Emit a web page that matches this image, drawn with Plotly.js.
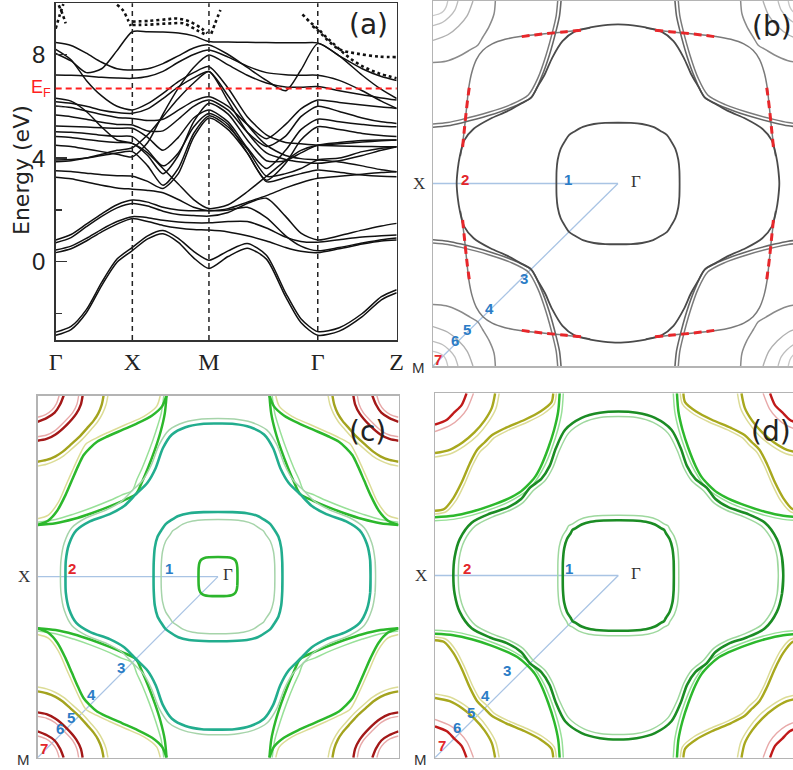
<!DOCTYPE html>
<html><head><meta charset="utf-8">
<script src="https://cdn.plot.ly/plotly-3.0.1.min.js"></script>
<style>html,body{margin:0;padding:0;background:#fff}#chart{width:793px;height:770px}</style>
</head><body><div id="chart"></div>
<script>
// ================= Panel (a): band structure =================
const kPath = [0,0.2,0.4,0.6,0.8,1,1.2,1.4,1.6,1.8,2,2.25,2.5,2.75,3.0,3.2,3.42,3.7,4.0,4.25,4.45];
const kTickVals = [0,1,2,3.42,4.45];
const kTickText = ['Γ','X','M','Γ','Z'];
const energyTicks = [0,4,8];
const energyMinor = [-2,2,6];
const energyFermi = 6.69;

const band01 = [-2.72,-2.5,-1.85,-0.8,0.1,0.55, 1.0,1.2,0.9,0.4,0.06, 0.42,0.7,0.25,-1.2,-2.2,-2.7, -2.55,-2.0,-1.35,-1.08];
const band02 = [-2.84,-2.62,-1.97,-0.92,-0.02,0.43, 0.88,1.08,0.75,0.15,-0.26, 0.2,0.52,0.1,-1.35,-2.35,-2.84, -2.68,-2.12,-1.47,-1.2];
const band03 = [0.84,1.05,1.45,1.85,2.2,2.38, 2.3,2.1,2.0,1.97,1.97, 2.05,2.3,2.55,2.85,3.05,3.22, 3.3,3.38,3.44,3.47];
const band04 = [0.73,0.93,1.35,1.75,2.08,2.25, 2.15,1.95,1.82,1.78,1.76, 1.9,2.25,2.45,1.75,1.1,0.84, 1.0,1.22,1.38,1.48];
const band05 = [0.45,0.6,0.9,1.25,1.55,1.74, 1.7,1.6,1.53,1.5,1.5, 1.55,1.55,1.3,0.95,0.78,0.75, 0.85,0.95,1.0,1.03];
const band06 = [0.35,0.5,0.8,1.15,1.45,1.67, 1.55,1.4,1.3,1.24,1.22, 1.15,1.0,0.8,0.55,0.4,0.35, 0.5,0.68,0.8,0.84];
const band07 = [3.26,3.2,3.08,2.95,2.85,2.8, 2.75,2.66,2.4,2.1,1.97, 2.0,2.1,1.7,1.0,0.6,0.42, 0.55,0.72,0.85,0.92];
const band08 = [3.51,3.48,3.42,3.36,3.32,3.3, 3.1,2.83,3.4,4.8,5.55, 5.1,4.2,3.09,3.25,3.4,3.54, 3.45,3.35,3.3,3.28];
const band09 = [3.86,3.9,4.0,4.15,4.3,4.4, 4.9,5.6,6.3,6.9,7.34, 6.2,5.0,4.2,3.95,3.85,3.8, 3.9,4.1,4.3,4.44];
const band10 = [3.93,3.95,4.0,4.1,4.2,4.25, 3.7,2.95,3.6,4.95,5.63, 5.2,4.35,3.3,3.4,3.6,3.93, 4.0,4.25,4.38,4.44];
const band11 = [4.5,4.45,4.35,4.25,4.15,4.05, 4.6,5.7,6.7,7.5,7.98, 7.6,7.2,6.9,6.75,6.74,6.76, 6.6,6.45,6.32,6.24];
const band12 = [4.83,4.8,4.72,4.65,4.6,4.57, 4.1,3.4,4.1,5.4,6.12, 5.7,4.7,3.9,3.9,4.2,4.5, 4.6,4.68,4.7,4.7];
const band13 = [5.02,5.0,4.95,4.88,4.84,4.83, 4.3,3.7,4.2,5.2,5.72, 5.3,4.2,3.15,3.8,4.7,5.21, 5.1,4.95,4.87,4.83];
const band14 = [5.24,5.22,5.2,5.17,5.15,5.15, 4.8,4.3,4.8,5.55,5.86, 5.4,4.4,3.6,4.3,5.1,5.5, 5.4,5.3,5.23,5.21];
const band15 = [5.66,5.6,5.5,5.38,5.3,5.28, 5.05,5.05,5.5,6.0,6.24, 5.85,5.0,4.45,4.85,5.6,6.0, 5.8,5.55,5.4,5.34];
const band16 = [6.01,5.95,5.82,5.68,5.57,5.53, 5.45,5.5,5.85,6.2,6.37, 6.0,5.3,4.75,5.3,5.9,6.24, 6.15,6.05,5.97,5.92];
const band17 = [6.18,6.12,6.0,5.85,5.76,5.73, 5.9,6.3,6.75,7.1,7.34, 6.4,5.3,4.5,4.1,3.98,3.93, 3.85,3.7,3.55,3.47];
const band18 = [8.2,7.8,7.0,6.4,6.0,5.86, 6.1,6.5,6.95,7.3,7.53, 6.7,5.6,4.9,4.6,4.55,4.5, 4.47,4.45,4.44,4.44];
const band19 = [6.31,6.2,5.8,5.2,4.7,4.57, 4.2,3.6,3.0,2.4,2.05, 2.2,2.7,3.3,3.9,4.3,4.5, 4.55,4.62,4.67,4.7];
const band20 = [7.21,7.2,7.17,7.12,7.09,7.08, 7.15,7.35,7.7,8.0,8.17, 7.9,7.55,7.3,7.22,7.2,7.2, 7.0,6.6,6.2,5.92];
const band21 = [8.46,8.35,8.05,7.7,7.45,7.4, 7.45,7.65,7.95,8.25,8.37, 8.0,7.5,7.0,6.6,7.4,8.42, 7.95,7.45,7.15,7.0];
const band22 = [8.04,7.75,7.3,7.45,8.15,8.88, 8.88,8.87,8.83,8.72,8.5, 8.48,8.47,8.46,8.45,8.45,8.45, 7.95,7.2,6.65,6.3];
const bands = [band01,band02,band03,band04,band05,band06,band07,band08,band09,band10,band11,
               band12,band13,band14,band15,band16,band17,band18,band19,band20,band21,band22];

// dotted (high-energy) bands
const dotA_k = [0.0,0.05,0.1],               dotA_E = [9.0,9.5,9.95];
const dotB_k = [0.04,0.09,0.13],             dotB_E = [9.9,9.55,9.2];
const dotC_k = [0.8,0.88,0.94,0.98],         dotC_E = [9.92,9.7,9.35,9.1];
const dotD_k = [1.0,1.23,1.45,1.58,1.75,1.9,1.98], dotD_E = [9.27,9.3,9.36,9.39,9.27,9.01,8.82];
const dotE_k = [1.0,1.2,1.36,1.5,1.67,1.84,1.97],  dotE_E = [9.14,9.15,9.18,9.2,9.2,8.94,8.75];
const dotF_k = [2.03,2.08,2.15],             dotF_E = [8.8,9.2,9.72];
const dotG_k = [3.22,3.32,3.42,3.52,3.62,3.8,4.0,4.22,4.45], dotG_E = [9.55,9.25,9.0,8.7,8.43,7.95,7.55,7.27,7.08];
const dotH_k = [3.35,3.45,3.55,3.7,3.92,4.22,4.45], dotH_E = [9.1,8.85,8.55,8.2,8.04,7.92,7.9];
const dotted = [[dotA_k,dotA_E],[dotB_k,dotB_E],[dotC_k,dotC_E],[dotD_k,dotD_E],[dotE_k,dotE_E],[dotF_k,dotF_E],[dotG_k,dotG_E],[dotH_k,dotH_E]];

// ================= Fermi-surface panels =================
// Γ-centred contours: one octant [along Γ-X, perpendicular], from the axis to the diagonal
// M-centred contours: one half [p, q] from the zone edge to the diagonal
const pathGX = [[-1,0],[0,0]];
const pathGM = [[0,0],[-1,-1]];

// (b) grey
const bInner  = [[0.333,0],[0.332,0.07],[0.326,0.13],[0.31,0.19],[0.285,0.235],[0.265,0.265]];
const bOuter  = [[0.872,0],[0.866,0.08],[0.855,0.15],[0.832,0.235],[0.78,0.3],[0.69,0.355],[0.6,0.395],[0.53,0.435],[0.47,0.47]];
const bPocketA= [[0,0.692],[0.08,0.684],[0.153,0.668],[0.3,0.628],[0.42,0.585],[0.53,0.53]];
const bPocketB= [[0,0.674],[0.08,0.666],[0.153,0.65],[0.3,0.61],[0.42,0.568],[0.515,0.515]];
const bLens   = [[0.148,0.85],[0.16,0.78],[0.172,0.68],[0.182,0.58],[0.194,0.47],[0.21,0.39],[0.235,0.32],[0.27,0.27]];
const bRed    = [[0.16,0.8],[0.168,0.72],[0.176,0.64],[0.186,0.55],[0.198,0.46]];
const bArc1   = [[0,0.337],[0.07,0.33],[0.14,0.303],[0.2,0.268],[0.242,0.242]];
const bArc2   = [[0,0.216],[0.08,0.185],[0.138,0.138]];
const bArc3   = [[0,0.135],[0.05,0.118],[0.088,0.088]];
const bArc4   = [[0,0.08],[0.035,0.07],[0.056,0.056]];

// (c)
const cTiny       = [[0.108,0],[0.107,0.05],[0.103,0.075],[0.093,0.093]];
const cInnerLight = [[0.315,0],[0.314,0.07],[0.307,0.14],[0.29,0.195],[0.265,0.232],[0.252,0.252]];
const cInner      = [[0.357,0],[0.356,0.08],[0.35,0.16],[0.335,0.22],[0.31,0.262],[0.29,0.29]];
const cOuter      = [[0.845,0],[0.843,0.09],[0.825,0.18],[0.785,0.255],[0.71,0.305],[0.6,0.345],[0.52,0.39],[0.455,0.455]];
const cOuterLight = [[0.873,0],[0.87,0.09],[0.852,0.185],[0.81,0.27],[0.73,0.325],[0.615,0.37],[0.535,0.415],[0.475,0.475]];
const cPocket     = [[0,0.715],[0.1,0.705],[0.2,0.682],[0.3,0.65],[0.4,0.612],[0.475,0.58],[0.545,0.545]];
const cPocketLight= [[0,0.7],[0.1,0.685],[0.2,0.655],[0.3,0.62],[0.4,0.58],[0.465,0.55],[0.525,0.525]];
const cLens       = [[0,0.715],[0.06,0.69],[0.11,0.635],[0.155,0.55],[0.19,0.47],[0.225,0.39],[0.255,0.33],[0.29,0.29]];
const cLensLight  = [[0,0.68],[0.06,0.66],[0.115,0.59],[0.16,0.49],[0.2,0.4],[0.235,0.325],[0.268,0.268]];
const cOlive      = [[0,0.366],[0.05,0.356],[0.1,0.336],[0.14,0.31],[0.18,0.275],[0.23,0.23]];
const cOliveLight = [[0,0.39],[0.05,0.38],[0.1,0.36],[0.145,0.333],[0.19,0.295],[0.245,0.245]];
const cRed1       = [[0,0.25],[0.05,0.24],[0.1,0.215],[0.162,0.162]];
const cPink1      = [[0,0.228],[0.05,0.218],[0.095,0.195],[0.147,0.147]];
const cRed2       = [[0,0.145],[0.05,0.125],[0.095,0.095]];
const cPink2      = [[0,0.12],[0.045,0.105],[0.08,0.08]];

// (d)
const dInner      = [[0.303,0],[0.302,0.08],[0.295,0.15],[0.28,0.2],[0.26,0.232],[0.25,0.25]];
const dInnerLight = [[0.33,0],[0.329,0.085],[0.322,0.16],[0.305,0.215],[0.282,0.252],[0.272,0.272]];
const dOuter      = [[0.9,0],[0.893,0.1],[0.865,0.2],[0.8,0.29],[0.7,0.34],[0.6,0.375],[0.53,0.42],[0.482,0.482]];
const dOuterLight = [[0.873,0],[0.867,0.1],[0.84,0.19],[0.78,0.272],[0.685,0.322],[0.59,0.358],[0.52,0.4],[0.465,0.465]];
const dPocket     = [[0,0.68],[0.1,0.672],[0.2,0.65],[0.3,0.618],[0.4,0.578],[0.46,0.545],[0.505,0.505]];
const dPocketLight= [[0,0.7],[0.1,0.692],[0.2,0.67],[0.3,0.638],[0.4,0.597],[0.465,0.56],[0.52,0.52]];
const dLens       = [[0,0.645],[0.05,0.635],[0.1,0.575],[0.145,0.49],[0.19,0.385],[0.23,0.31],[0.27,0.27]];
const dLensLight  = [[0,0.662],[0.06,0.65],[0.115,0.588],[0.16,0.5],[0.205,0.395],[0.245,0.322],[0.285,0.285]];
const dOlive      = [[0,0.328],[0.08,0.31],[0.15,0.27],[0.215,0.215]];
const dOliveLight = [[0,0.35],[0.085,0.332],[0.16,0.29],[0.232,0.232]];
const dRed        = [[0,0.172],[0.065,0.145],[0.105,0.105]];
const dPink       = [[0,0.21],[0.085,0.175],[0.135,0.135]];

// path-point labels [x, y] in each panel
const pathLabelText = ['1','2','3','4','5','6','7'];
const bLabelPos = [[-0.27,0.022],[-0.827,0.022],[-0.508,-0.519],[-0.697,-0.683],[-0.816,-0.798],[-0.881,-0.858],[-0.973,-0.962]];
const cLabelPos = [[-0.27,0.043],[-0.808,0.043],[-0.538,-0.5],[-0.703,-0.652],[-0.814,-0.78],[-0.877,-0.84],[-0.965,-0.95]];
const dLabelPos = [[-0.27,0.037],[-0.823,0.037],[-0.605,-0.521],[-0.727,-0.656],[-0.803,-0.75],[-0.878,-0.832],[-0.962,-0.933]];
const redLabels = ['2','7'];

// ================= helpers =================
function gammaLoop(oct){
  const q = oct.concat(oct.slice(0,-1).reverse().map(p=>[p[1],p[0]]));
  const q2 = q.slice().reverse().map(p=>[-p[0],p[1]]).slice(1);
  const q3 = q.map(p=>[-p[0],-p[1]]).slice(1);
  const q4 = q.slice().reverse().map(p=>[p[0],-p[1]]).slice(1);
  let all = q.concat(q2,q3,q4);
  all = [all[all.length-2]].concat(all,[all[1]]);   // wrap so the spline closes smoothly
  return {x:all.map(p=>p[0]), y:all.map(p=>p[1])};
}
const corners = [[-1,-1,1,1],[-1,1,1,-1],[1,-1,-1,1],[1,1,-1,-1]];
function placeCorners(seg){
  const x=[],y=[];
  corners.forEach(c=>{
    seg.forEach(p=>{x.push(c[0]+c[2]*p[0]); y.push(c[1]+c[3]*p[1]);});
    x.push(null); y.push(null);
  });
  return {x,y};
}
function mArc(half){
  return placeCorners(half.concat(half.slice(0,-1).reverse().map(p=>[p[1],p[0]])));
}
function redSegs(seg){
  const a = placeCorners(seg), b = placeCorners(seg.map(p=>[p[1],p[0]]));
  return {x:a.x.concat(b.x), y:a.y.concat(b.y)};
}

const traces = [];
bands.forEach(b=>traces.push({x:kPath,y:b,type:'scatter',mode:'lines',xaxis:'x',yaxis:'y',hoverinfo:'skip',
  line:{color:'#111',width:1.5,shape:'spline',smoothing:0.7}}));
dotted.forEach(d=>traces.push({x:d[0],y:d[1],type:'scatter',mode:'lines',xaxis:'x',yaxis:'y',hoverinfo:'skip',
  line:{color:'#111',width:2.6,dash:'dot',shape:'spline'}}));

function addCurve(xy,ax,color,width,dash){
  traces.push({x:xy.x,y:xy.y,type:'scatter',mode:'lines',xaxis:'x'+ax,yaxis:'y'+ax,hoverinfo:'skip',connectgaps:false,
    line:{color:color,width:width,shape:'spline',smoothing:0.8,dash:dash||'solid'}});
}
function addPaths(ax){
  [pathGX,pathGM].forEach(pth=>traces.push({x:pth.map(p=>p[0]),y:pth.map(p=>p[1]),type:'scatter',mode:'lines',
    xaxis:'x'+ax,yaxis:'y'+ax,hoverinfo:'skip',line:{color:'#a9c4e4',width:1.3}}));
}

// (b)
addPaths(2);
addCurve(mArc(bArc4),2,'#c8c8c8',1.3);
addCurve(mArc(bArc3),2,'#bdbdbd',1.3);
addCurve(mArc(bArc2),2,'#b0b0b0',1.4);
addCurve(mArc(bArc1),2,'#8a8a8a',1.5);
addCurve(mArc(bLens),2,'#7a7a7a',1.5);
addCurve(mArc(bPocketB),2,'#7a7a7a',1.5);
addCurve(mArc(bPocketA),2,'#666',1.6);
addCurve(gammaLoop(bOuter),2,'#4a4a4a',1.8);
addCurve(gammaLoop(bInner),2,'#4a4a4a',1.8);
addCurve(redSegs(bRed),2,'#e8262a',3,'8px,5px');

// (c)
addPaths(3);
addCurve(mArc(cPink2),3,'#e8a9a9',1.4);
addCurve(mArc(cRed2),3,'#a31818',2.4);
addCurve(mArc(cPink1),3,'#e8a9a9',1.4);
addCurve(mArc(cRed1),3,'#a31818',2.4);
addCurve(mArc(cOliveLight),3,'#dcdc96',1.5);
addCurve(mArc(cOlive),3,'#a3a31e',2.4);
addCurve(mArc(cLensLight),3,'#dcdc96',1.5);
addCurve(mArc(cPocketLight),3,'#98e098',1.5);
addCurve(mArc(cLens),3,'#2cb82c',2.5);
addCurve(mArc(cPocket),3,'#2cb82c',2.5);
addCurve(gammaLoop(cOuterLight),3,'#a6d4aa',1.5);
addCurve(gammaLoop(cOuter),3,'#22ad8e',2.6);
addCurve(gammaLoop(cInnerLight),3,'#a6d4aa',1.5);
addCurve(gammaLoop(cInner),3,'#22ad8e',2.6);
addCurve(gammaLoop(cTiny),3,'#2cb52c',2.6);

// (d)
addPaths(4);
addCurve(mArc(dPink),4,'#e8a9a9',1.4);
addCurve(mArc(dRed),4,'#c01a1a',2.4);
addCurve(mArc(dOliveLight),4,'#dcdc96',1.5);
addCurve(mArc(dOlive),4,'#a8a81e',2.4);
addCurve(mArc(dLensLight),4,'#dcdc96',1.5);
addCurve(mArc(dLens),4,'#a8a81e',2.4);
addCurve(mArc(dPocketLight),4,'#98e098',1.5);
addCurve(mArc(dPocket),4,'#2cb82c',2.5);
addCurve(gammaLoop(dOuterLight),4,'#9ed89e',1.5);
addCurve(gammaLoop(dOuter),4,'#1b8c24',2.6);
addCurve(gammaLoop(dInnerLight),4,'#9ed89e',1.5);
addCurve(gammaLoop(dInner),4,'#1b8c24',2.6);

// ================= layout =================
const W=793,H=770;
const px = v=>v/W, py = v=>1-v/H;
const fsAxis = (dom,rng,mirror,anchor)=>({domain:dom,range:rng,anchor:anchor,showticklabels:false,ticks:'',showgrid:false,zeroline:false,
  showline:true,mirror:mirror,linecolor:'#b4b4b4',linewidth:1.5,fixedrange:true});

const annotations = [];
function txt(text,x,y,xref,yref,size,color,family,extra){
  annotations.push(Object.assign({text:text,x:x,y:y,xref:xref,yref:yref,showarrow:false,
    font:{size:size,color:color,family:family},xanchor:'center',yanchor:'middle'},extra||{}));
}
const SANS='DejaVu Sans, Arial, sans-serif', SERIF='Liberation Serif, Times New Roman, serif', ARIAL='Liberation Sans, Arial, sans-serif';
txt('Energy (eV)',px(22),py(170),'paper','paper',22,'#222',SANS,{textangle:-90});
txt('E<sub>F</sub>',px(41),energyFermi,'paper','y',18,'#ff2020',ARIAL);
txt('(a)',px(368),py(24),'paper','paper',28,'#222',SANS);
txt('(b)',px(772),py(27),'paper','paper',28,'#222',SANS);
txt('(c)',px(367),py(431),'paper','paper',28,'#222',SANS);
txt('(d)',px(771),py(431),'paper','paper',28,'#222',SANS);
[[2,18,bLabelPos],[3,10,cLabelPos],[4,18,dLabelPos]].forEach(([ax,gShift,pos])=>{
  txt('X',-1,0,'x'+ax,'y'+ax,17,'#333',SERIF,{xanchor:'right',xshift:-6});
  txt('Γ',0,0,'x'+ax,'y'+ax,17,'#333',SERIF,{xshift:gShift,yshift:2});
  txt('M',-1,-1,'x'+ax,'y'+ax,15,'#333',ARIAL,{xanchor:'right',xshift:-6,yshift:-2});
  pathLabelText.forEach((t,i)=>{
    txt('<b>'+t+'</b>',pos[i][0],pos[i][1],'x'+ax,'y'+ax,15,
        redLabels.includes(t)?'#e3262b':'#2b7cc6',ARIAL);
  });
});

const layout = {
  width:W,height:H,margin:{l:0,r:0,t:0,b:0},paper_bgcolor:'#fff',plot_bgcolor:'rgba(0,0,0,0)',showlegend:false,
  xaxis:{domain:[px(55.7),px(396.7)],range:[0,4.45],anchor:'y',tickvals:kTickVals,ticktext:kTickText,ticks:'',
    showgrid:false,zeroline:false,showline:true,mirror:true,linecolor:'#333',linewidth:1.5,
    tickfont:{family:SERIF,size:24,color:'#222'},fixedrange:true},
  yaxis:{domain:[py(340),py(3.3)],range:[-3.023,9.977],anchor:'x',tickvals:energyTicks,ticks:'inside',ticklen:11,tickwidth:1.5,
    tickcolor:'#333',ticklabelstandoff:4,
    minor:{tickvals:energyMinor,ticks:'inside',ticklen:6,tickwidth:1.5,tickcolor:'#333'},
    showgrid:false,zeroline:false,showline:true,mirror:true,linecolor:'#333',linewidth:1.5,
    tickfont:{family:ARIAL,size:24,color:'#222'},fixedrange:true},
  xaxis2:fsAxis([px(433),1],[-1,(W-618)/185],true,'y2'),
  yaxis2:fsAxis([py(366),py(1)],[-1,1],false,'x2'),
  xaxis3:fsAxis([px(37.5),px(398.5)],[-1,1],true,'y3'),
  yaxis3:fsAxis([py(757.7),py(395.5)],[-1,1],true,'x3'),
  xaxis4:fsAxis([px(435),1],[-1,(W-618.3)/183.3],true,'y4'),
  yaxis4:fsAxis([py(757.7),py(393.3)],[-1,1],false,'x4'),
  shapes:[
    ...kTickVals.slice(1,4).map(k=>({type:'line',xref:'x',yref:'y domain',x0:k,x1:k,y0:0,y1:1,
      line:{color:'#222',width:1.5,dash:'5px,4px'}})),
    {type:'line',xref:'x domain',yref:'y',x0:0,x1:1,y0:energyFermi,y1:energyFermi,line:{color:'#ff2020',width:2,dash:'6px,4px'}}
  ],
  annotations:annotations
};
Plotly.newPlot('chart',traces,layout,{displayModeBar:false,staticPlot:true});
</script></body></html>
